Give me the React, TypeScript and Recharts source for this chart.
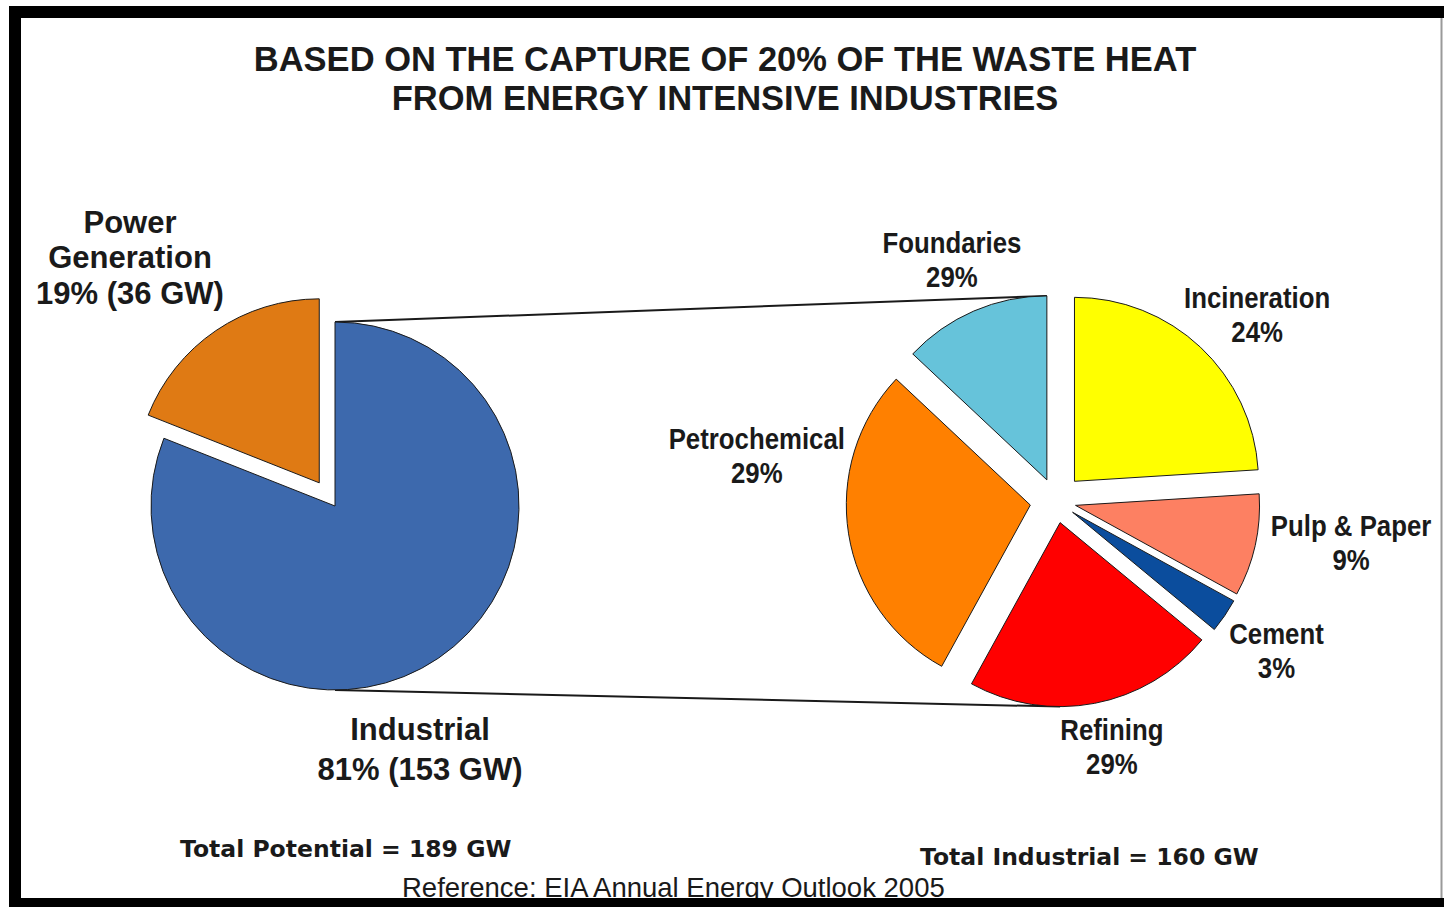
import { Cell, Pie, PieChart, Sector } from "recharts";

// left pie: total potential split
const LEFT_NAMES = ["Industrial", "Power Generation"];
const LEFT_VALUES = [81, 19];
const LEFT_COLORS = ["#3d69ad", "#df7a14"];

// right pie: industrial breakdown, clockwise from 12 o'clock
const RIGHT_NAMES = ["Incineration", "Pulp & Paper", "Cement", "Refining", "Petrochemical", "Foundaries"];
const RIGHT_VALUES = [24, 9, 3, 22, 29, 13];
const RIGHT_LABELS = ["24%", "9%", "3%", "29%", "29%", "29%"];
const RIGHT_COLORS = ["#ffff00", "#fd8062", "#0b4d9d", "#ff0000", "#ff8000", "#66c3da"];

const TITLE = ["BASED ON THE CAPTURE OF 20% OF THE WASTE HEAT", "FROM ENERGY INTENSIVE INDUSTRIES"];

const W = 1444;
const H = 907;
const L = { cx: 335, cy: 506, r: 184 };
const R = { cx: 1056, cy: 501, r: 184 };
const LEFT_EXPLODE: Record<string, number> = { "Power Generation": 28 };
const RIGHT_EXPLODE: Record<string, number> = {
  Incineration: 27,
  "Pulp & Paper": 20,
  Cement: 20,
  Refining: 22,
  Petrochemical: 26,
  Foundaries: 23,
};
// label placement tweaks: clockwise turn (deg) and radial push (px)
const LABEL_TURN: Record<string, number> = { Incineration: 4, "Pulp & Paper": -4.5, Refining: -2, Petrochemical: 17.5 };
const LABEL_PUSH: Record<string, number> = { Incineration: -10 };
const RAD = Math.PI / 180;
const INK = "#1a1a1a";
const SANS = "'Liberation Sans', Arial, sans-serif";

const leftData = LEFT_NAMES.map((name, i) => ({ name, value: LEFT_VALUES[i] }));
const rightData = RIGHT_NAMES.map((name, i) => ({ name, value: RIGHT_VALUES[i], label: RIGHT_LABELS[i] }));

const explodedSlice = (offsets: Record<string, number>) => (props: any) => {
  const name = props.payload?.name ?? props.name;
  const off = offsets[name] ?? 0;
  const a = -props.midAngle * RAD;
  return (
    <Sector
      cx={props.cx + off * Math.cos(a)}
      cy={props.cy + off * Math.sin(a)}
      innerRadius={props.innerRadius}
      outerRadius={props.outerRadius}
      startAngle={props.startAngle}
      endAngle={props.endAngle}
      fill={props.fill}
      stroke={INK}
      strokeWidth={1}
    />
  );
};

const rightLabel = (props: any) => {
  const { cx, cy, midAngle, outerRadius, payload, index } = props;
  const name = payload?.name ?? RIGHT_NAMES[index];
  const pct = payload?.label ?? RIGHT_LABELS[index];
  const ang = midAngle - (LABEL_TURN[name] ?? 0);
  const w = name.length * 13;
  const rr = outerRadius + 60 + 0.35 * w * Math.abs(Math.cos(ang * RAD)) + (LABEL_PUSH[name] ?? 0);
  const x = cx + rr * Math.cos(-ang * RAD);
  const y = cy + rr * Math.sin(-ang * RAD);
  return (
    <g transform={`translate(${x},${y}) scale(0.86,1)`}>
      <text x={0} y={-7} textAnchor="middle" fontFamily={SANS} fontWeight="bold" fontSize={30} fill={INK}>
        {name}
      </text>
      <text x={0} y={27} textAnchor="middle" fontFamily={SANS} fontWeight="bold" fontSize={30} fill={INK}>
        {pct}
      </text>
    </g>
  );
};

// mid angle (clockwise from top, degrees) of slice i
function midCw(values: number[], i: number) {
  const total = values.reduce((s, v) => s + v, 0);
  const before = values.slice(0, i).reduce((s, v) => s + v, 0);
  return ((before + values[i] / 2) / total) * 360;
}

function apex(name: string) {
  const i = RIGHT_NAMES.indexOf(name);
  const t = midCw(RIGHT_VALUES, i) * RAD;
  const off = RIGHT_EXPLODE[name];
  return { x: R.cx + off * Math.sin(t), y: R.cy - off * Math.cos(t) };
}

export default function App() {
  const top = apex("Foundaries");
  const bottom = apex("Refining");
  return (
    <div style={{ position: "relative", width: W, height: H, background: "#fff" }}>
      <style>{"body{margin:0}"}</style>
      <svg width={W} height={H} style={{ position: "absolute", left: 0, top: 0 }}>
        <line x1={L.cx} y1={L.cy - L.r} x2={top.x} y2={top.y - R.r} stroke={INK} strokeWidth={2} />
        <line x1={L.cx} y1={L.cy + L.r} x2={bottom.x} y2={bottom.y + R.r} stroke={INK} strokeWidth={2} />
      </svg>
      <div style={{ position: "absolute", left: 0, top: 0 }}>
        <PieChart width={W} height={H} margin={{ top: 0, right: 0, bottom: 0, left: 0 }}>
          <Pie
            data={leftData}
            dataKey="value"
            nameKey="name"
            cx={L.cx}
            cy={L.cy}
            outerRadius={L.r}
            startAngle={90}
            endAngle={-270}
            stroke={INK}
            strokeWidth={1}
            shape={explodedSlice(LEFT_EXPLODE)}
            label={false}
            labelLine={false}
            isAnimationActive={false}
          >
            {leftData.map((d, i) => (
              <Cell key={d.name} fill={LEFT_COLORS[i]} />
            ))}
          </Pie>
          <Pie
            data={rightData}
            dataKey="value"
            nameKey="name"
            cx={R.cx}
            cy={R.cy}
            outerRadius={R.r}
            startAngle={90}
            endAngle={-270}
            stroke={INK}
            strokeWidth={1}
            shape={explodedSlice(RIGHT_EXPLODE)}
            label={rightLabel}
            labelLine={false}
            isAnimationActive={false}
          >
            {rightData.map((d, i) => (
              <Cell key={d.name} fill={RIGHT_COLORS[i]} />
            ))}
          </Pie>
        </PieChart>
      </div>
      <svg width={W} height={H} style={{ position: "absolute", left: 0, top: 0, pointerEvents: "none" }}>
        <g fontFamily={SANS} fill={INK} textAnchor="middle">
          <text x={725} y={71} fontSize={34.5} fontWeight="bold">{TITLE[0]}</text>
          <text x={725} y={110} fontSize={34.5} fontWeight="bold">{TITLE[1]}</text>

          <text x={L.cx - 205} y={L.cy - 273} fontSize={31} fontWeight="bold">Power</text>
          <text x={L.cx - 205} y={L.cy - 238} fontSize={31} fontWeight="bold">Generation</text>
          <text x={L.cx - 205} y={L.cy - 202} fontSize={31} fontWeight="bold">19% (36 GW)</text>

          <text x={L.cx + 85} y={L.cy + 234} fontSize={31} fontWeight="bold">Industrial</text>
          <text x={L.cx + 85} y={L.cy + 274} fontSize={31} fontWeight="bold">81% (153 GW)</text>
        </g>
        <g fontFamily="'DejaVu Sans', Verdana, sans-serif" fontWeight="bold" fontSize={23.5} fill={INK}>
          <text x={180} y={857}>Total Potential = 189 GW</text>
          <text x={920} y={865}>Total Industrial = 160 GW</text>
        </g>
        <text x={402} y={897} fontFamily={SANS} fontSize={27.5} fill={INK}>
          Reference: EIA Annual Energy Outlook 2005
        </text>
        <rect x={9} y={6} width={W - 9} height={12} fill="#000" />
        <rect x={9} y={6} width={12} height={H - 6} fill="#000" />
        <rect x={9} y={898} width={W - 9} height={9} fill="#000" />
        <line x1={1441.5} y1={18} x2={1441.5} y2={898} stroke="#9a9a9a" strokeWidth={2} />
      </svg>
    </div>
  );
}
